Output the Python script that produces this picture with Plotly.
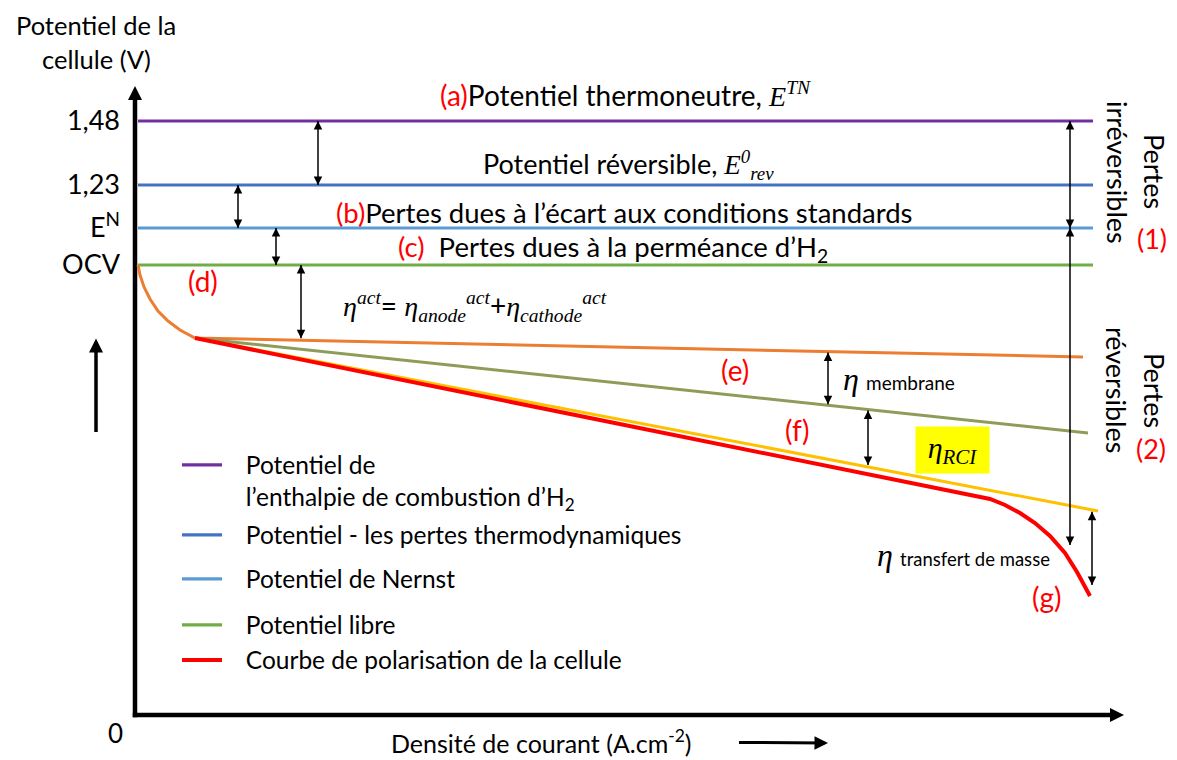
import numpy as np
import plotly.graph_objects as go

# ---------------- data (schematic units) ----------------
# x : current density (arbitrary units), y : cell potential (schematic units)
level_x = [3, 958]
E_TN, E_REV, E_N, OCV = 594, 530, 487, 450          # 1,48 / 1,23 / E^N / OCV
level_values = [E_TN, E_REV, E_N, OCV]
level_names = ["Potentiel de<br>l’enthalpie de combustion d’H<sub>2</sub>",
               "Potentiel - les pertes thermodynamiques",
               "Potentiel de Nernst",
               "Potentiel libre"]
level_colors = ["#7030A0", "#4472C4", "#5B9BD5", "#70AD47"]

tick_values = [E_TN, E_REV, E_N, OCV]
tick_labels = ["1,48", "1,23", "E<sup>N</sup>", "OCV"]

act_x = [3, 5, 9, 15, 23, 33, 45, 60, 948]          # activation (orange)
act_y = [450, 440, 428, 416, 404, 394, 385, 377, 358]
mem_x = [60, 953]                                    # membrane (olive)
mem_y = [377, 282]
rci_x = [60, 963]                                    # RCI (yellow)
rci_y = [377, 204]
pol_x = [60, 840, 855, 870, 885, 900, 915, 930, 942, 955]   # polarisation (red)
pol_y = [377, 220, 216, 210, 202, 192, 179, 162, 143, 119]
pol_name = "Courbe de polarisation de la cellule"

# double-headed arrows: (x, top, bottom)
arrows = [
    (183, E_TN, E_REV),
    (103, E_REV, E_N),
    (141, E_N, OCV),
    (166, OCV, float(np.interp(166, act_x, act_y)) + 2),
    (693, float(np.interp(693, act_x, act_y)) - 1, float(np.interp(693, mem_x, mem_y)) + 1),
    (733, float(np.interp(733, mem_x, mem_y)) - 1, float(np.interp(733, rci_x, rci_y)) + 2),
    (957, float(np.interp(957, rci_x, rci_y)) - 2, 130),
    (935, E_TN, E_N),
    (935, E_N, 170),
]

X0, X_MAX, Y0, Y_MAX = -4, 990, -4, 630
OFF = 8                      # page body margin
W, H = 1177 - OFF, 760 - OFF
WL, WR, WT, WB = 131, 1125, 85, 719          # plot area in window pixels
L, T = WL - OFF, WT - OFF
R = W - (WR - OFF)
B = H - (WB - OFF)


def px(xw):
    """window pixel x -> paper"""
    return (xw - WL) / (WR - WL)


def py(yw):
    """window pixel y -> paper"""
    return (WB - yw) / (WB - WT)


FONT = "Lato"
MATH = "font-family:Liberation Serif;font-style:italic"
SP = "\u00a0\u00a0\u00a0"

fig = go.Figure()

# axes drawn as arrows
fig.add_trace(go.Scatter(x=[-2.25, 980], y=[0, 0], mode="lines", showlegend=False,
                         hoverinfo="skip", line=dict(color="black", width=4.5),
                         cliponaxis=False))
fig.add_trace(go.Scatter(x=[0, 0], y=[-2.25, 620], mode="lines", showlegend=False,
                         hoverinfo="skip", line=dict(color="black", width=4.5),
                         cliponaxis=False))
fig.add_trace(go.Scatter(x=[X_MAX - 1, 0], y=[0, Y_MAX - 1], mode="markers",
                         showlegend=False, hoverinfo="skip", cliponaxis=False,
                         marker=dict(symbol=["arrow-right", "arrow-up"], size=14,
                                     color="black", line=dict(width=0))))

for i, (v, n, c) in enumerate(zip(level_values, level_names, level_colors)):
    label = "<br>".join(SP + part for part in n.split("<br>"))
    fig.add_trace(go.Scatter(x=level_x, y=[v, v], mode="lines", name=label,
                             line=dict(color=c, width=3.2),
                             legend="legend" if i == 0 else f"legend{i+1}"))

fig.add_trace(go.Scatter(x=act_x, y=act_y, mode="lines", showlegend=False,
                         line=dict(color="#ED7D31", width=3)))
fig.add_trace(go.Scatter(x=mem_x, y=mem_y, mode="lines", showlegend=False,
                         line=dict(color="#8E9C5A", width=3)))
fig.add_trace(go.Scatter(x=rci_x, y=rci_y, mode="lines", showlegend=False,
                         line=dict(color="#FFC000", width=3)))
fig.add_trace(go.Scatter(x=pol_x, y=pol_y, mode="lines", name=SP + pol_name,
                         line=dict(color="#FF0000", width=4), legend="legend5"))

# double-headed arrows
for (xa, top, bot) in arrows:
    fig.add_trace(go.Scatter(x=[xa, xa], y=[top, bot], mode="lines+markers",
                             showlegend=False, hoverinfo="skip", cliponaxis=False,
                             line=dict(color="black", width=1.5),
                             marker=dict(symbol=["arrow-up", "arrow-down"], size=8.5,
                                         color="black", line=dict(width=0))))

ann = []
RED = "color:#FF0000"


def t(x, y, text, size=28, xref="x", yref="y", xanchor="center", **kw):
    d = dict(x=x, y=y, xref=xref, yref=yref, text=text, showarrow=False,
             xanchor=xanchor, yanchor="middle",
             font=dict(family=FONT, size=size, color="black"))
    d.update(kw)
    ann.append(d)


t(490, 621, f"<span style='{RED}'>(a)</span>Potentiel thermoneutre, "
            f"<span style='{MATH}'>E<sup>TN</sup></span>", size=28)
t(493, 550, f"Potentiel réversible, <span style='{MATH}'>E<sup>0</sup><sub>rev</sub></span>",
  size=27)
t(489, 503, f"<span style='{RED}'>(b)</span>Pertes dues à l’écart aux conditions standards",
  size=27.5)
t(478, 467, f"<span style='{RED}'>(c)</span>  Pertes dues à la perméance d’H<sub>2</sub>",
  size=27.5)
t(340, 409, f"<span style='{MATH}'>η<sup>act</sup></span>= "
            f"<span style='{MATH}'>η<sub>anode</sub><sup>act</sup></span>+"
            f"<span style='{MATH}'>η<sub>cathode</sub><sup>act</sup></span>", size=28)
t(68, 434, f"<span style='{RED}'>(d)</span>")
t(600, 345, f"<span style='{RED}'>(e)</span>")
t(706, 336, f"<span style='{MATH};font-size:32px'>η</span> <span style='font-size:19px'>membrane</span>",
  xanchor="left")
t(662, 285, f"<span style='{RED}'>(f)</span>")
t(817, 265, f"<span style='{MATH};font-size:30px'>η<sub>RCI</sub></span>",
  bgcolor="#FFFF00", width=69, height=42, borderpad=2)
t(740, 160, f"<span style='{MATH};font-size:32px'>η</span> <span style='font-size:18.5px'>transfert de masse</span>",
  xanchor="left")
t(912, 118, f"<span style='{RED}'>(g)</span>")

# right-hand rotated labels
t(px(1155), py(171), "Pertes", size=27, xref="paper", yref="paper", textangle=90)
t(px(1118), py(172), "irréversibles", size=27, xref="paper", yref="paper", textangle=90)
t(px(1152), py(238), f"<span style='{RED}'>(1)</span>", size=27, xref="paper", yref="paper")
t(px(1155), py(390), "Pertes", size=27, xref="paper", yref="paper", textangle=90)
t(px(1117), py(390), "réversibles", size=27, xref="paper", yref="paper", textangle=90)
t(px(1151), py(448), f"<span style='{RED}'>(2)</span>", size=27, xref="paper", yref="paper")

# axis titles
t(px(96), py(25), "Potentiel de la", size=25.5, xref="paper", yref="paper", borderpad=0)
t(px(115), py(733), "0", size=26, xref="paper", yref="paper")

# "cellule (V)" carries the upward direction arrow below it
ann.append(dict(x=px(96), y=py(432), xref="paper", yref="paper",
                ax=0, ay=59 - 432, axref="pixel", ayref="pixel",
                text="cellule (V)", font=dict(family=FONT, size=25.5, color="black"),
                borderpad=0, showarrow=True, arrowside="start", startarrowhead=2,
                arrowwidth=3.5, startarrowsize=0.8, arrowsize=0.8,
                startstandoff=340 - 76, standoff=0, arrowcolor="black"))
# x title carries the rightward direction arrow
ann.append(dict(x=px(828), y=py(743), xref="paper", yref="paper",
                ax=541 - 828, ay=-2, axref="pixel", ayref="pixel",
                text="Densité de courant (A.cm<sup>-2</sup>)",
                font=dict(family=FONT, size=25, color="black"), borderpad=0,
                showarrow=True, arrowhead=2, arrowwidth=3, arrowsize=0.9,
                startstandoff=47, arrowcolor="black"))

legend_rows = [481, 535, 579, 625, 660]
leg_common = dict(x=px(177), xanchor="left", yanchor="middle", bgcolor="rgba(0,0,0,0)",
                  font=dict(family=FONT, size=24.5, color="black"), itemwidth=40,
                  valign="top", borderwidth=0)
layout_legends = {}
for i, r in enumerate(legend_rows):
    key = "legend" if i == 0 else f"legend{i+1}"
    layout_legends[key] = dict(leg_common, y=py(r))

fig.update_layout(
    width=W, height=H, margin=dict(l=L, r=R, t=T, b=B),
    paper_bgcolor="white", plot_bgcolor="white",
    xaxis=dict(range=[X0, X_MAX], showgrid=False, zeroline=False, showline=False,
               showticklabels=False, ticks=""),
    yaxis=dict(range=[Y0, Y_MAX], showgrid=False, zeroline=False, showline=False,
               tickvals=tick_values, ticktext=tick_labels, ticks="",
               ticklabelstandoff=10,
               tickfont=dict(family=FONT, size=27, color="black")),
    annotations=ann,
    showlegend=True,
    **layout_legends,
)

fig.write_html("out.html")
